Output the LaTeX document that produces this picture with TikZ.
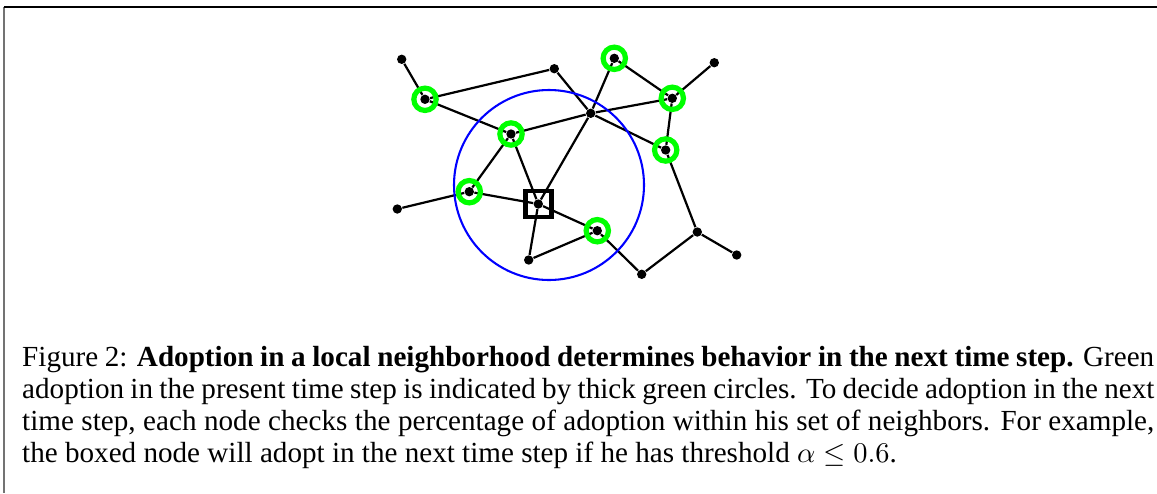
\documentclass[tikz,border=0pt]{standalone}
\usepackage{fontspec}
\setmainfont{Liberation Serif}

\begin{document}
\begin{tikzpicture}
[x=0.3846pt,y=-0.3846pt,
  lineDecorate/.style={-,line width=0.85pt},%
  nodeDecorate/.style={shape=circle,fill=black,inner sep=0pt,minimum size=3.6pt},
  ringDecorate/.style={shape=circle,draw=green,line width=2pt,inner sep=0pt,minimum size=8.6pt},
  boxDecorate/.style={shape=rectangle,draw,line width=1.7pt,inner sep=0pt,minimum size=10pt},
  hoodDecorate/.style={draw=blue,line width=0.8pt},
  captionDecorate/.style={anchor=north west,inner sep=0pt,text width=435.4pt,align=justify,
    font=\fontsize{11.2}{12.3}\selectfont}]
\useasboundingbox (0,0) rectangle (1157,493);
%% frame
\coordinate (frameTL) at (4,7);
\coordinate (frameTR) at (1157,7);
\coordinate (frameBL) at (4,493);
\draw[black!55,line width=0.6pt] (frameTL) -- (frameBL);
\draw[line width=0.45pt] (frameTL) -- (frameTR);
%% nodes or vertices
\foreach \nodename/\x/\y in {
  0/401.7/59.3,
  1/425.0/99.3,
  2/554.3/68.7,
  3/614.3/58.3,
  4/714.3/62.7,
  5/672.3/98.3,
  6/590.7/113.3,
  7/511.0/134.0,
  8/665.7/150.0,
  9/469.3/191.7,
  10/397.3/209.0,
  11/538.3/204.0,
  12/597.3/230.7,
  13/528.7/260.0,
  14/641.7/274.3,
  15/697.3/232.0,
  16/736.7/255.0}
{
  \node (\nodename) at (\x,\y) [nodeDecorate] {};
}
%% edges or lines
\path
\foreach \startnode/\endnode in {
  0/1, 1/2, 1/7, 2/6, 6/8, 7/6, 6/5, 3/6, 6/11, 3/5, 5/4, 5/8,
  8/15, 15/16, 15/14, 14/12, 12/11, 12/13, 13/11, 11/9, 11/7,
  7/9, 9/10}
{
  (\startnode) edge[lineDecorate] (\endnode)
};
%% neighborhood of the boxed node
\coordinate (hood) at (549,185);
\draw[hoodDecorate] (hood) circle[radius=95];
%% adopters
\foreach \nodename in {1,3,5,7,8,9,12}
{
  \node (ring\nodename) at (\nodename) [ringDecorate] {};
}
\node (box) at (11) [boxDecorate] {};
%% caption
\node (caption) at (21.7,345.5) [captionDecorate] {Figure 2: \textbf{Adoption in a local
  neighborhood determines behavior in the next time step.} Green\linebreak
  adoption in the present time step is indicated by thick green circles. To decide
  adoption in the next\linebreak
  time step, each node checks the percentage of adoption within his set of neighbors.
  For example,\linebreak
  the boxed node will adopt in the next time step if he has threshold $\alpha\leq0.6$.};
\end{tikzpicture}
\end{document}
